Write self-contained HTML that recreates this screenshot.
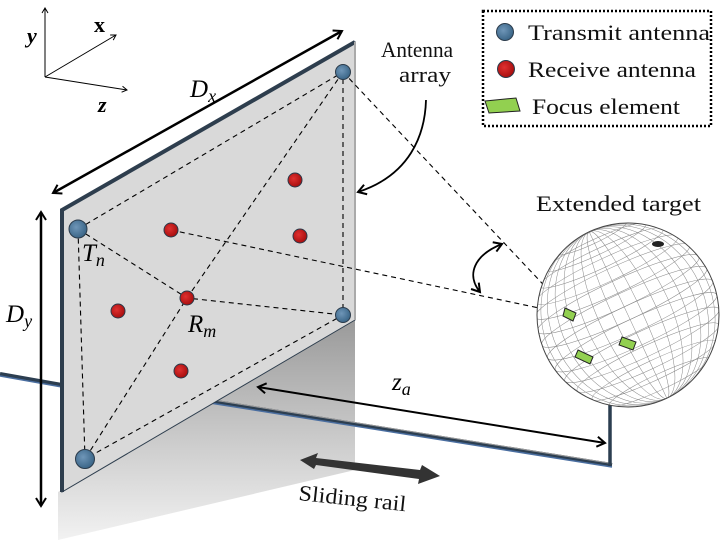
<!DOCTYPE html>
<html><head><style>html,body{margin:0;padding:0;background:#fff}svg{display:block}</style></head>
<body>
<svg width="720" height="540" viewBox="0 0 720 540" xmlns="http://www.w3.org/2000/svg" font-family="Liberation Serif, serif">
<defs>
<linearGradient id="sh" gradientUnits="userSpaceOnUse" x1="0" y1="320" x2="0" y2="540"><stop offset="0" stop-color="#9a9a9a"/><stop offset="0.6" stop-color="#d0d0d0"/><stop offset="1" stop-color="#f2f2f2"/></linearGradient>
<radialGradient id="tx" cx="0.4" cy="0.4" r="0.6"><stop offset="0" stop-color="#6f96b8"/><stop offset="1" stop-color="#3b6688"/></radialGradient>
<radialGradient id="rx" cx="0.4" cy="0.4" r="0.6"><stop offset="0" stop-color="#e03030"/><stop offset="1" stop-color="#a80f0f"/></radialGradient>
<marker id="ah" markerWidth="12" markerHeight="12" refX="9" refY="6" orient="auto-start-reverse" markerUnits="userSpaceOnUse"><path d="M1,1 L9,6 L1,11" fill="none" stroke="#000" stroke-width="2"/></marker>
<marker id="as" markerWidth="8" markerHeight="8" refX="6" refY="4" orient="auto" markerUnits="userSpaceOnUse"><path d="M1,1 L6,4 L1,7" fill="none" stroke="#000" stroke-width="1"/></marker>
<clipPath id="sc"><ellipse cx="628" cy="315" rx="91" ry="92"/></clipPath>
</defs>
<!-- shadow below panel -->
<polygon points="58,492 355,320 355,470 58,540" fill="url(#sh)"/>
<!-- rail -->
<path d="M0,374 L62,385" stroke="#2c3e50" stroke-width="4"/>
<path d="M0,376 L62,387" stroke="#4a6ea0" stroke-width="1.5"/>
<path d="M210,401 L612,465" stroke="#2c3e50" stroke-width="4"/>
<path d="M210,403 L612,467" stroke="#4a6ea0" stroke-width="1.5"/>
<path d="M210,399.5 L612,463.5" stroke="#999" stroke-width="1"/>
<path d="M610,466 L610,400" stroke="#2c3e50" stroke-width="3.5"/>
<!-- panel -->
<polygon points="62,210 355,42 355,320 62,492" fill="#d9d9d9" stroke="#2e3e4e" stroke-width="1"/>
<path d="M62,492 L62,210 L355,42" fill="none" stroke="#2e3e4e" stroke-width="4"/>
<path d="M355,42 L355,320" stroke="#aaa" stroke-width="2"/>
<!-- dashed lines -->
<g stroke="#000" stroke-width="1.1" stroke-dasharray="5,4" fill="none">
<path d="M78,229 L343,72 L343,315 L85,459 Z"/>
<path d="M78,229 L187,298 L343,315"/>
<path d="M343,72 L187,298 L85,459"/>
<path d="M343,72 L572,315"/>
<path d="M171,230 L572,315"/>
</g>
<g stroke="#2a3a4a" stroke-width="1">
<circle cx="78" cy="229" r="9" fill="url(#tx)"/>
<circle cx="343" cy="72" r="7.5" fill="url(#tx)"/>
<circle cx="343" cy="315" r="7.5" fill="url(#tx)"/>
<circle cx="85" cy="459" r="9.5" fill="url(#tx)"/>
<circle cx="171" cy="230" r="7" fill="url(#rx)"/>
<circle cx="295" cy="180" r="7" fill="url(#rx)"/>
<circle cx="300" cy="236" r="7" fill="url(#rx)"/>
<circle cx="118" cy="311" r="7" fill="url(#rx)"/>
<circle cx="187" cy="298" r="7" fill="url(#rx)"/>
<circle cx="181" cy="371" r="7" fill="url(#rx)"/>
</g>
<!-- sphere -->
<ellipse cx="628" cy="315" rx="91" ry="92" fill="#fff"/>
<g fill="none" stroke="#888" stroke-width="0.5" clip-path="url(#sc)" transform="rotate(-25 628 315)">
<ellipse cx="628" cy="315" rx="86" ry="92"/>
<ellipse cx="628" cy="315" rx="78" ry="92"/>
<ellipse cx="628" cy="315" rx="68" ry="92"/>
<ellipse cx="628" cy="315" rx="56" ry="92"/>
<ellipse cx="628" cy="315" rx="43" ry="92"/>
<ellipse cx="628" cy="315" rx="29" ry="92"/>
<ellipse cx="628" cy="315" rx="14" ry="92"/>
<path d="M628,200 L628,430"/>
<ellipse cx="628" cy="240" rx="55" ry="8"/>
<ellipse cx="628" cy="252" rx="68" ry="10"/>
<ellipse cx="628" cy="265" rx="78" ry="12"/>
<ellipse cx="628" cy="278" rx="85" ry="13"/>
<ellipse cx="628" cy="292" rx="89" ry="14"/>
<ellipse cx="628" cy="306" rx="91" ry="14"/>
<ellipse cx="628" cy="320" rx="91" ry="14"/>
<ellipse cx="628" cy="334" rx="89" ry="14"/>
<ellipse cx="628" cy="348" rx="85" ry="13"/>
<ellipse cx="628" cy="362" rx="78" ry="12"/>
<ellipse cx="628" cy="376" rx="68" ry="10"/>
<ellipse cx="628" cy="389" rx="55" ry="8"/>
<ellipse cx="628" cy="230" rx="38" ry="6"/>
</g>
<ellipse cx="628" cy="315" rx="91" ry="92" fill="none" stroke="#444" stroke-width="1"/>
<ellipse cx="658" cy="244" rx="6" ry="3" fill="#222"/>
<g fill="#92d050" stroke="#222" stroke-width="1">
<polygon points="565,308 576,313 573,321 563,316"/>
<polygon points="622,337 636,342 633,350 619,345"/>
<polygon points="578,350 593,357 590,364 575,357"/>
</g>
<!-- axes -->
<g stroke="#000" stroke-width="1" fill="none">
<path d="M45,77 L45,8" marker-end="url(#as)"/>
<path d="M45,77 L116,35" marker-end="url(#as)"/>
<path d="M45,77 L127,90" marker-end="url(#as)"/>
</g>
<text x="27" y="43" font-size="22" font-style="italic" font-weight="bold">y</text>
<text x="94" y="32" font-size="22" font-weight="bold">x</text>
<text x="98" y="112" font-size="22" font-style="italic" font-weight="bold">z</text>
<!-- arrows -->
<g stroke="#000" stroke-width="2.5" fill="none">
<path d="M53,193 L342,31" marker-start="url(#ah)" marker-end="url(#ah)"/>
<path d="M41,212 L41,506" marker-start="url(#ah)" marker-end="url(#ah)"/>
<path d="M258,387 L605,443" marker-start="url(#ah)" marker-end="url(#ah)" stroke-width="2"/>
<path d="M426,100 C425,135 410,175 358,192" marker-end="url(#ah)" stroke-width="1.8"/>
<path d="M480,292 C466,275 474,255 502,244" marker-start="url(#ah)" marker-end="url(#ah)" stroke-width="1.8"/>
</g>
<polygon points="300,460 318,453 316,458 420,470 422,465 440,476 418,484 419,479 316,465 314,469" fill="#333"/>
<!-- labels -->
<g font-size="25" font-style="italic">
<text x="190" y="97">D<tspan font-size="18" dy="5">x</tspan></text>
<text x="6" y="322">D<tspan font-size="18" dy="5">y</tspan></text>
<text x="82" y="261">T<tspan font-size="18" dy="5">n</tspan></text>
<text x="188" y="332">R<tspan font-size="18" dy="5">m</tspan></text>
<text x="392" y="390">z<tspan font-size="18" dy="5">a</tspan></text>
</g>
<g font-size="22" fill="#111">
<text x="381" y="57" textLength="72" lengthAdjust="spacingAndGlyphs">Antenna</text>
<text x="399" y="82" textLength="52" lengthAdjust="spacingAndGlyphs">array</text>
<text x="536" y="211" textLength="165" lengthAdjust="spacingAndGlyphs">Extended target</text>
<text x="298" y="500" transform="rotate(6 298 500)" textLength="108" lengthAdjust="spacingAndGlyphs">Sliding rail</text>
</g>
<!-- legend -->
<rect x="483" y="11" width="228" height="115" fill="#fff" stroke="#000" stroke-width="2.5" stroke-dasharray="2,2"/>
<circle cx="505" cy="32" r="8.5" fill="url(#tx)" stroke="#2a3a4a"/>
<circle cx="506" cy="69" r="8.5" fill="url(#rx)" stroke="#2a3a4a"/>
<polygon points="485,101 516,98 520,111 489,113" fill="#92d050" stroke="#222"/>
<g font-size="22" fill="#111">
<text x="528" y="40" textLength="182" lengthAdjust="spacingAndGlyphs">Transmit antenna</text>
<text x="528" y="77" textLength="168" lengthAdjust="spacingAndGlyphs">Receive antenna</text>
<text x="532" y="114" textLength="148" lengthAdjust="spacingAndGlyphs">Focus element</text>
</g>
</svg>
</body></html>
